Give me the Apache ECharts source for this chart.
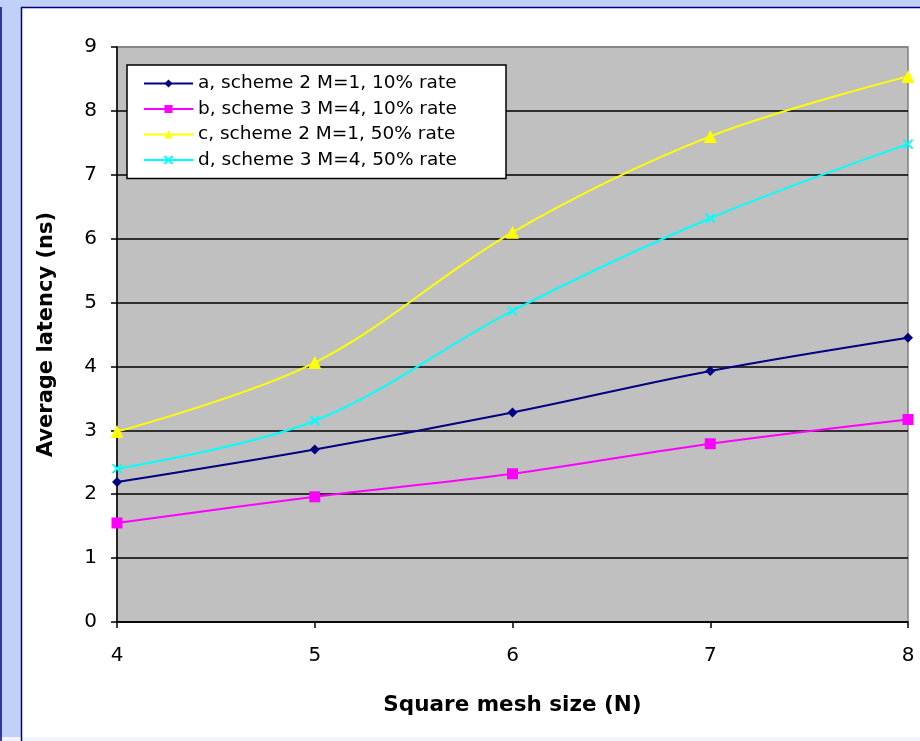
<!DOCTYPE html>
<html><head><meta charset="utf-8">
<script src="https://cdn.jsdelivr.net/npm/echarts@6/dist/echarts.min.js"></script>
<style>html,body{margin:0;padding:0;background:#fff}#c{width:920px;height:741px}</style>
</head><body><div id="c"></div>
<script>
var meshSizes = [4, 5, 6, 7, 8];
var seriesNames = ['a, scheme 2 M=1, 10% rate','b, scheme 3 M=4, 10% rate','c, scheme 2 M=1, 50% rate','d, scheme 3 M=4, 50% rate'];
var aValues = [2.19, 2.70, 3.28, 3.93, 4.45];
var bValues = [1.55, 1.96, 2.32, 2.79, 3.17];
var cValues = [2.98, 4.06, 6.10, 7.60, 8.54];
var dValues = [2.40, 3.15, 4.87, 6.32, 7.48];
var yTicks = [0,1,2,3,4,5,6,7,8,9];

function pairs(v){ return meshSizes.map(function(x,i){return [x, v[i]];}); }
var FONT = '"DejaVu Sans", Verdana, sans-serif';
var chart = echarts.init(document.getElementById('c'), null, {renderer:'canvas'});
var colors = ['#000080','#ff00ff','#ffff00','#00ffff'];
var symbols = ['diamond','rect','triangle','path://M0,0L10,10M10,0L0,10'];
var sizes = [10,11,13,9];
var datas = [aValues,bValues,cValues,dValues];
var series = datas.map(function(d,i){
  return {
    name: seriesNames[i], type:'line', data: pairs(d), smooth:0.35,
    symbol: symbols[i], symbolSize: sizes[i], showAllSymbol:true,
    lineStyle:{color:colors[i], width:2},
    itemStyle:{color:colors[i], borderColor:colors[i], borderWidth: i===3?2:0},
    z: 3+i
  };
});
var gridColors = yTicks.map(function(t){ return t===9 ? '#808080' : '#000000'; });
chart.setOption({
  animation:false,
  backgroundColor:'#ffffff',
  graphic:[
    {type:'rect', shape:{x:0,y:0,width:920,height:7}, style:{fill:'#c0d0f8'}, z:-10},
    {type:'rect', shape:{x:0,y:0,width:21,height:741}, style:{fill:'#c0d0f8'}, z:-10},
    {type:'rect', shape:{x:0,y:737,width:920,height:4}, style:{fill:'#f2f4fc'}, z:-10},
    {type:'line', shape:{x1:21,y1:7.5,x2:920,y2:7.5}, style:{stroke:'#000080',lineWidth:1.5}, z:-9},
    {type:'line', shape:{x1:21.5,y1:7,x2:21.5,y2:741}, style:{stroke:'#000080',lineWidth:1.5}, z:-9},
    {type:'line', shape:{x1:1,y1:7,x2:1,y2:741}, style:{stroke:'#000080',lineWidth:1.5}, z:-9}
  ],
  grid:{left:117, right:12, top:47, bottom:119, show:true, backgroundColor:'#c0c0c0', borderColor:'#808080', borderWidth:1.5},
  legend:{
    orient:'vertical', left:127, top:65, data:seriesNames,
    backgroundColor:'#ffffff', borderColor:'#000000', borderWidth:1.5, borderRadius:0,
    padding:[9,15,9,16], itemGap:6.5, itemWidth:49, itemHeight:10,
    textStyle:{fontFamily:FONT, fontSize:18.5, color:'#000', width:293, lineHeight:18}
  },
  xAxis:{
    type:'value', min:4, max:8, interval:1,
    name:'Square mesh size (N)', nameLocation:'middle', nameGap:72,
    nameTextStyle:{fontFamily:FONT, fontSize:21.5, fontWeight:'bold', color:'#000'},
    axisLine:{show:true, onZero:false, lineStyle:{color:'#000', width:1.5}},
    axisTick:{show:true, length:6, lineStyle:{color:'#000', width:1.5}},
    axisLabel:{fontFamily:FONT, fontSize:20, color:'#000', margin:24},
    splitLine:{show:false}
  },
  yAxis:{
    type:'value', min:0, max:9, interval:1,
    name:'Average latency (ns)', nameLocation:'middle', nameGap:60, nameRotate:90,
    nameTextStyle:{fontFamily:FONT, fontSize:21, fontWeight:'bold', color:'#000'},
    axisLine:{show:true, lineStyle:{color:'#000', width:1.5}},
    axisTick:{show:true, length:6, lineStyle:{color:'#000', width:1.5}},
    axisLabel:{fontFamily:FONT, fontSize:20, color:'#000', margin:20,
      formatter:function(v){ return yTicks.indexOf(v)>=0 ? String(v) : ''; }},
    splitLine:{show:true, lineStyle:{color:gridColors, width:1.5}}
  },
  series: series
});
</script></body></html>
